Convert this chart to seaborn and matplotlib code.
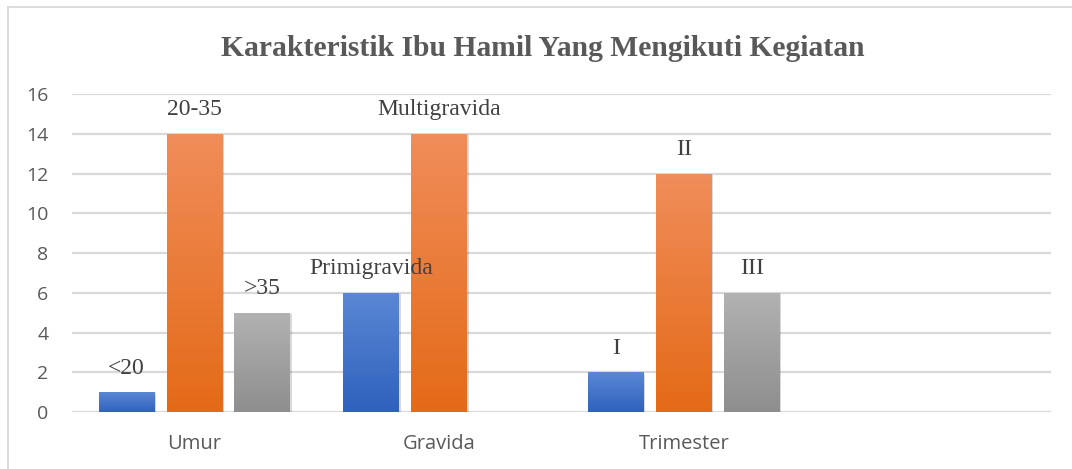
import numpy as np
import pandas as pd
import matplotlib
matplotlib.use("Agg")
import matplotlib.pyplot as plt
import seaborn as sns
from matplotlib.lines import Line2D
import matplotlib.patheffects as pe
from matplotlib.colors import LinearSegmentedColormap

# ---- data ----
categories = ["Umur", "Gravida", "Trimester"]
series = ["S1", "S2", "S3"]
values_s1 = [1, 6, 2]
values_s2 = [14, 14, 12]
values_s3 = [5, None, 6]
labels_s1 = ["<20", "Primigravida", "I"]
labels_s2 = ["20-35", "Multigravida", "II"]
labels_s3 = [">35", None, "III"]
yticks = [0, 2, 4, 6, 8, 10, 12, 14, 16]
title = "Karakteristik Ibu Hamil Yang Mengikuti Kegiatan"

rows = []
for s, vals, labs in zip(series, [values_s1, values_s2, values_s3],
                         [labels_s1, labels_s2, labels_s3]):
    for c, v, l in zip(categories, vals, labs):
        if v is not None:
            rows.append({"cat": c, "series": s, "value": v, "label": l})
df = pd.DataFrame(rows)

sns.set_theme(style="white")
plt.rcParams["font.family"] = ["Open Sans", "DejaVu Sans"]

W, H = 1072, 469
fig = plt.figure(figsize=(W / 100, H / 100), dpi=100)
ax = fig.add_axes([72 / W, 57 / H, (1051 - 72) / W, (412 - 94) / H])

palette = {"S1": "#4472C4", "S2": "#ED7D31", "S3": "#A5A5A5"}
grads = {"S1": ("#5B87D4", "#2F62BD"),
         "S2": ("#F08D5A", "#E46A17"),
         "S3": ("#B2B2B2", "#8E8E8E")}

sns.barplot(data=df, x="cat", y="value", hue="series", order=categories,
            hue_order=series, palette=palette, width=0.833, gap=0.18,
            legend=False, ax=ax, zorder=3, linewidth=0)

ax.set_xlim(-0.5, 3.5)
ax.set_ylim(0, 16)
ax.set_yticks(yticks)
ax.yaxis.grid(True, color="#D9D9D9", linewidth=1.6, zorder=0)
ax.set_axisbelow(True)
for sp in ax.spines.values():
    sp.set_visible(False)
ax.set_xlabel("")
ax.set_ylabel("")
ax.tick_params(axis="y", length=0, pad=17, labelsize=14, labelcolor="#595959")
ax.tick_params(axis="x", length=0, pad=15.5, labelsize=14.5, labelcolor="#595959")

# gradient fills + labels
for s, cont in zip(series, ax.containers):
    sub = df[df["series"] == s].set_index("cat")
    cmap = LinearSegmentedColormap.from_list(s, [grads[s][1], grads[s][0]])
    for bar in cont:
        x0, y0 = bar.get_x(), bar.get_y()
        w, h = bar.get_width(), bar.get_height()
        if not np.isfinite(h) or h <= 0:
            continue
        cat = categories[int(round(x0 + w / 2))]
        bar.set_path_effects([pe.SimplePatchShadow(offset=(1.2, -1.2), alpha=0.15,
                                                   shadow_rgbFace="#000000"),
                              pe.Normal()])
        grad = np.linspace(0, 1, 256).reshape(-1, 1)
        im = ax.imshow(grad, cmap=cmap, origin="lower", aspect="auto",
                       extent=(x0, x0 + w, y0, y0 + h), zorder=4)
        im.set_clip_path(bar)
        ax.text(x0 + w / 2, y0 + h + 0.68, sub.loc[cat, "label"],
                ha="center", va="bottom", fontsize=17,
                family=["Liberation Serif"], color="#404040", zorder=5)

ax.set_xlim(-0.5, 3.5)
ax.set_ylim(0, 16)

fig.text(543 / W, 1 - 48 / H, title, ha="center", va="center",
         fontsize=21.3, fontweight="bold", family=["Liberation Serif"],
         color="#595959")

# chart frame
fig.add_artist(Line2D([8 / W, 8 / W], [0, 1 - 7 / H], transform=fig.transFigure,
                      color="#D9D9D9", linewidth=1.3))
fig.add_artist(Line2D([8 / W, 1], [1 - 7 / H, 1 - 7 / H], transform=fig.transFigure,
                      color="#D9D9D9", linewidth=1.3))

fig.savefig("out.png", dpi=100)
